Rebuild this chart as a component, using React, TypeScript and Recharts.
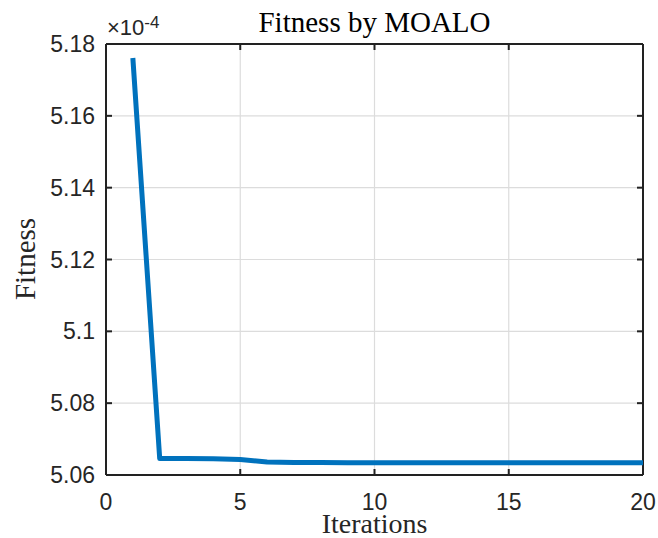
import { Line, LineChart, ReferenceLine, XAxis, YAxis } from 'recharts'

// fitness values are in units of 1e-4 (axis shows "×10^-4")
const iterations = [1, 2, 3, 4, 5, 6, 7, 8, 9, 10, 11, 12, 13, 14, 15, 16, 17, 18, 19, 20]
const fitness = [
  5.1761, 5.0646, 5.0646, 5.0645, 5.0643, 5.0636, 5.0635, 5.0635, 5.0634, 5.0634,
  5.0634, 5.0634, 5.0634, 5.0634, 5.0634, 5.0634, 5.0634, 5.0634, 5.0634, 5.0634,
]
const xTicks = [0, 5, 10, 15, 20]
const yTicks = [5.06, 5.08, 5.1, 5.12, 5.14, 5.16, 5.18]

const data = iterations.map((it, i) => ({ it, fitness: fitness[i] }))

// layout
const W = 658
const H = 538
const marginTop = 44
const marginRight = 15
const xAxisHeight = 63
const yAxisWidth = 106
const plotTop = marginTop
const plotBottom = H - xAxisHeight
const plotLeft = yAxisWidth
const plotRight = W - marginRight
const tickLen = 6

const ink = '#222222'
const textInk = '#262626'
const gridColor = '#dcdcdc'
const sans = '"Liberation Sans", Arial, sans-serif'
const serif = '"Liberation Serif", "Times New Roman", serif'

const xEdges = [xTicks[0], xTicks[xTicks.length - 1]]
const yEdges = [yTicks[0], yTicks[yTicks.length - 1]]

const fmtY = (v: number) => String(Number(v.toFixed(2)))

// inward ticks on bottom + top, label below
function XTick(props: any) {
  const { x, y, payload } = props
  return (
    <g>
      <line x1={x} x2={x} y1={plotBottom} y2={plotBottom - tickLen} stroke={ink} strokeWidth={2} />
      <line x1={x} x2={x} y1={plotTop} y2={plotTop + tickLen} stroke={ink} strokeWidth={2} />
      <text x={x} y={y} dy="0.71em" textAnchor="middle" fill={textInk} fontSize={23} fontFamily={sans}>
        {payload.value}
      </text>
    </g>
  )
}

// inward ticks on left + right, label to the left
function YTick(props: any) {
  const { x, y, payload } = props
  return (
    <g>
      <line x1={plotLeft} x2={plotLeft + tickLen} y1={y} y2={y} stroke={ink} strokeWidth={2} />
      <line x1={plotRight} x2={plotRight - tickLen} y1={y} y2={y} stroke={ink} strokeWidth={2} />
      <text x={x} y={y} dy="0.355em" textAnchor="end" fill={textInk} fontSize={23} fontFamily={sans}>
        {fmtY(payload.value)}
      </text>
    </g>
  )
}

export default function App() {
  return (
    <div style={{ position: 'absolute', left: 0, top: 0, width: W, height: H, background: '#fff' }}>
      <LineChart width={W} height={H} data={data} margin={{ top: marginTop, right: marginRight, bottom: 0, left: 0 }}>
        {/* interior grid lines */}
        {xTicks.slice(1, -1).map((t) => (
          <ReferenceLine key={'gx' + t} x={t} stroke={gridColor} strokeWidth={1.2} />
        ))}
        {yTicks.slice(1, -1).map((t) => (
          <ReferenceLine key={'gy' + t} y={t} stroke={gridColor} strokeWidth={1.2} />
        ))}
        {/* box around the plot */}
        {xEdges.map((t) => (
          <ReferenceLine key={'bx' + t} x={t} stroke={ink} strokeWidth={2} />
        ))}
        {yEdges.map((t) => (
          <ReferenceLine key={'by' + t} y={t} stroke={ink} strokeWidth={2} />
        ))}
        <XAxis
          dataKey="it"
          type="number"
          domain={[0, 20]}
          ticks={xTicks}
          interval={0}
          height={xAxisHeight}
          tickSize={0}
          tickMargin={19}
          axisLine={false}
          tickLine={false}
          tick={<XTick />}
        />
        <YAxis
          type="number"
          domain={[5.06, 5.18]}
          ticks={yTicks}
          interval={0}
          width={yAxisWidth}
          tickSize={0}
          tickMargin={11}
          axisLine={false}
          tickLine={false}
          tick={<YTick />}
        />
        <Line
          type="linear"
          dataKey="fitness"
          stroke="#0072BD"
          strokeWidth={5}
          strokeLinejoin="round"
          dot={false}
          isAnimationActive={false}
        />
      </LineChart>

      <div
        style={{
          position: 'absolute', left: plotLeft, width: plotRight - plotLeft, top: 5, textAlign: 'center',
          fontFamily: serif, fontSize: 29, lineHeight: '34px', color: '#000', whiteSpace: 'nowrap',
        }}
      >
        Fitness by MOALO
      </div>
      <div
        style={{
          position: 'absolute', left: plotLeft + 1, top: 15, fontFamily: sans, fontSize: 22,
          lineHeight: '26px', color: textInk, whiteSpace: 'nowrap',
        }}
      >
        ×10<span style={{ fontSize: 17, position: 'relative', top: -7 }}>-4</span>
      </div>
      <div
        style={{
          position: 'absolute', left: plotLeft, width: plotRight - plotLeft, top: 513, textAlign: 'center',
          fontFamily: serif, fontSize: 28, lineHeight: '22px', color: textInk, whiteSpace: 'nowrap',
        }}
      >
        Iterations
      </div>
      <div
        style={{
          position: 'absolute', left: 25, top: 259, transform: 'translate(-50%, -50%) rotate(-90deg)',
          fontFamily: serif, fontSize: 29, lineHeight: '34px', color: textInk, whiteSpace: 'nowrap',
        }}
      >
        Fitness
      </div>
    </div>
  )
}
